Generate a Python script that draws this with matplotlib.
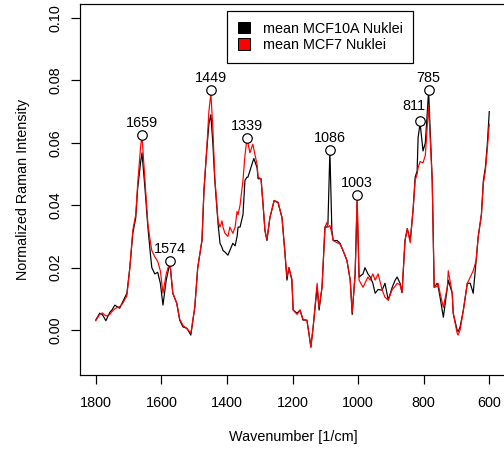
import matplotlib
matplotlib.use("Agg")
import matplotlib.pyplot as plt
from matplotlib.patches import Patch

plt.rcParams['font.family'] = ['Liberation Sans', 'DejaVu Sans']

##! Spectra (wavenumber, MCF10A, MCF7)
wavenumber = [1800, 1788, 1780, 1769, 1757, 1750, 1742, 1735, 1727, 1718,
              1705, 1696, 1687, 1678, 1672, 1663, 1659, 1650, 1641, 1633,
              1629, 1620, 1611, 1603, 1595, 1585, 1574, 1565, 1553, 1544,
              1534, 1522, 1510, 1498, 1489, 1476, 1470, 1461, 1455, 1449,
              1443, 1437, 1427, 1421, 1415, 1412, 1406, 1397, 1391, 1382,
              1375, 1369, 1366, 1360, 1351, 1345, 1339, 1336, 1330, 1321,
              1318, 1308, 1305, 1296, 1290, 1284, 1278, 1269, 1256, 1244,
              1232, 1223, 1217, 1211, 1202, 1198, 1186, 1177, 1168, 1156,
              1150, 1144, 1137, 1125, 1119, 1110, 1101, 1095, 1092, 1086,
              1080, 1076, 1064, 1055, 1046, 1034, 1024, 1018, 1009, 1003,
              997, 985, 979, 970, 963, 955, 948, 939, 927, 918,
              908, 896, 887, 881, 872, 866, 857, 850, 841, 832,
              826, 820, 817, 811, 802, 795, 785, 774, 768, 759,
              756, 750, 740, 728, 725, 713, 710, 698, 695, 689,
              679, 667, 658, 649, 640, 634, 624, 618, 612, 606,
              600]

mcf10a = [0.0032, 0.0054, 0.0050, 0.0030, 0.0057, 0.0065, 0.0080, 0.0075, 0.0070, 0.0090,
          0.0118, 0.0200, 0.0310, 0.0360, 0.0456, 0.0540, 0.0568, 0.0456, 0.0330, 0.0240,
          0.0200, 0.0180, 0.0185, 0.0150, 0.0080, 0.0160, 0.0215, 0.0118, 0.0086, 0.0032,
          0.0010, 0.0006, -0.0016, 0.0073, 0.0200, 0.0287, 0.0447, 0.0584, 0.0660, 0.0690,
          0.0600, 0.0480, 0.0340, 0.0278, 0.0265, 0.0255, 0.0250, 0.0240, 0.0255, 0.0278,
          0.0270, 0.0300, 0.0330, 0.0330, 0.0370, 0.0480, 0.0490, 0.0490, 0.0510, 0.0540,
          0.0550, 0.0520, 0.0485, 0.0485, 0.0405, 0.0319, 0.0287, 0.0360, 0.0415, 0.0408,
          0.0360, 0.0246, 0.0160, 0.0200, 0.0160, 0.0064, 0.0054, 0.0064, 0.0032, 0.0032,
          -0.0010, -0.0054, 0.0010, 0.0137, 0.0064, 0.0137, 0.0330, 0.0330, 0.0340, 0.0574,
          0.0320, 0.0287, 0.0287, 0.0278, 0.0255, 0.0223, 0.0160, 0.0050, 0.0180, 0.0410,
          0.0170, 0.0180, 0.0200, 0.0180, 0.0170, 0.0150, 0.0118, 0.0130, 0.0128, 0.0150,
          0.0096, 0.0137, 0.0160, 0.0170, 0.0150, 0.0120, 0.0287, 0.0325, 0.0287, 0.0390,
          0.0490, 0.0510, 0.0616, 0.0664, 0.0574, 0.0600, 0.0766, 0.0480, 0.0137, 0.0150,
          0.0140, 0.0105, 0.0041, 0.0137, 0.0160, 0.0118, 0.0054, 0.0000, -0.0005, 0.0010,
          0.0064, 0.0150, 0.0150, 0.0118, 0.0223, 0.0297, 0.0370, 0.0480, 0.0520, 0.0596,
          0.0700]

mcf7 = [0.0030, 0.0050, 0.0055, 0.0045, 0.0050, 0.0060, 0.0068, 0.0072, 0.0075, 0.0085,
        0.0110, 0.0200, 0.0320, 0.0370, 0.0470, 0.0590, 0.0622, 0.0480, 0.0340, 0.0280,
        0.0255, 0.0235, 0.0220, 0.0190, 0.0118, 0.0180, 0.0220, 0.0118, 0.0086, 0.0035,
        0.0015, 0.0004, -0.0010, 0.0073, 0.0200, 0.0290, 0.0450, 0.0590, 0.0700, 0.0759,
        0.0650, 0.0490, 0.0350, 0.0330, 0.0350, 0.0330, 0.0310, 0.0300, 0.0330, 0.0310,
        0.0330, 0.0380, 0.0370, 0.0400, 0.0480, 0.0560, 0.0612, 0.0600, 0.0568, 0.0596,
        0.0580, 0.0530, 0.0490, 0.0485, 0.0405, 0.0319, 0.0290, 0.0360, 0.0415, 0.0410,
        0.0360, 0.0246, 0.0170, 0.0200, 0.0165, 0.0064, 0.0050, 0.0064, 0.0035, 0.0030,
        -0.0010, -0.0056, 0.0010, 0.0150, 0.0073, 0.0137, 0.0330, 0.0345, 0.0330, 0.0335,
        0.0310, 0.0287, 0.0280, 0.0275, 0.0255, 0.0223, 0.0160, 0.0057, 0.0180, 0.0432,
        0.0160, 0.0137, 0.0150, 0.0170, 0.0160, 0.0180, 0.0160, 0.0180, 0.0130, 0.0105,
        0.0096, 0.0130, 0.0140, 0.0150, 0.0145, 0.0120, 0.0287, 0.0325, 0.0280, 0.0390,
        0.0480, 0.0500, 0.0520, 0.0540, 0.0536, 0.0560, 0.0718, 0.0480, 0.0137, 0.0140,
        0.0150, 0.0118, 0.0073, 0.0137, 0.0190, 0.0118, 0.0054, -0.0010, -0.0016, 0.0000,
        0.0064, 0.0150, 0.0170, 0.0190, 0.0223, 0.0297, 0.0370, 0.0470, 0.0510, 0.0580,
        0.0660]

##! Marked peaks
peak_wn = [1659, 1574, 1449, 1339, 1086, 1003, 811, 785]
peak_int = [0.0625, 0.0220, 0.0769, 0.0616, 0.0577, 0.0434, 0.0670, 0.0769]
peak_lbl = ["1659", "1574", "1449", "1339", "1086", "1003", "811", "785"]

legend_labels = ["mean MCF10A Nuklei", "mean MCF7 Nuklei"]

FS = 14.4

fig = plt.figure(figsize=(7, 6.25), dpi=72)
# plot region ends just past the figure's right edge, like the reference
ax = fig.add_axes([80/504, 75/450, 426/504, 371/450])

ax.plot(wavenumber, mcf10a, color='black', lw=1.2)
ax.plot(wavenumber, mcf7, color='red', lw=1.2)
ax.plot(peak_wn, peak_int, 'o', mfc='white', mec='black', mew=1.2, ms=9.5)

for w, v, s in zip(peak_wn, peak_int, peak_lbl):
    if s == "811":
        ax.annotate(s, (w, v), xytext=(5, 8), textcoords='offset points',
                    ha='right', va='bottom', fontsize=FS)
    else:
        ax.annotate(s, (w, v), xytext=(0, 5), textcoords='offset points',
                    ha='center', va='bottom', fontsize=FS)

ax.set_xlim(1848, 549)
ax.set_ylim(-0.0144, 0.1045)
ax.set_xticks([1800, 1600, 1400, 1200, 1000, 800, 600])
ax.set_yticks([0.00, 0.02, 0.04, 0.06, 0.08, 0.10])
ax.set_yticklabels(["0.00", "0.02", "0.04", "0.06", "0.08", "0.10"],
                   rotation=90, va='center')
ax.tick_params(direction='out', length=9, width=1.2, labelsize=FS, pad=12)
ax.tick_params(axis='y', pad=8)
for sp in ax.spines.values():
    sp.set_linewidth(1.2)

ax.set_xlabel('Wavenumber [1/cm]', fontsize=FS, labelpad=20)
ax.set_ylabel('Normalized Raman Intensity', fontsize=FS, labelpad=19)

handles = [Patch(facecolor='black', edgecolor='black'),
           Patch(facecolor='red', edgecolor='black')]
leg = fig.legend(handles, legend_labels, loc='upper left',
                 bbox_to_anchor=(227/504, 1 - 11/450), fontsize=FS,
                 fancybox=False, framealpha=1, edgecolor='black',
                 handlelength=0.83, handleheight=0.83, handletextpad=0.9,
                 borderpad=0.75, labelspacing=0.15, borderaxespad=0)
leg.get_frame().set_linewidth(1.2)

fig.savefig('out.png', dpi=72)
